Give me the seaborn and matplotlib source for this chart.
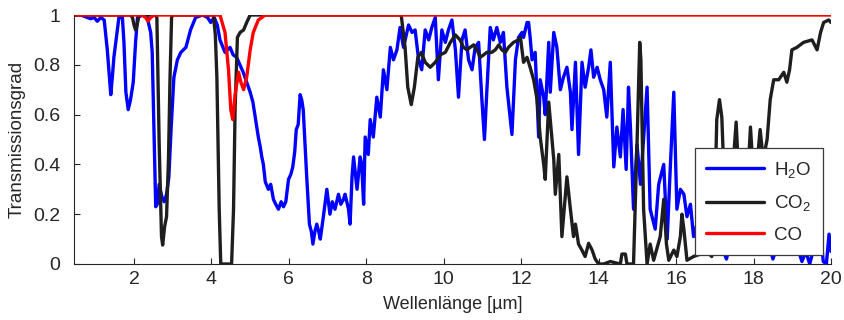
import matplotlib
matplotlib.use("Agg")
import matplotlib.pyplot as plt
import seaborn as sns
import pandas as pd

# ---------------- data ----------------
h2o_x = [0.45, 0.62, 0.79, 0.88, 0.97, 1.05, 1.14, 1.23, 1.31, 1.40, 1.44, 1.48, 1.57, 1.61, 1.70, 1.74,
         1.79, 1.85, 1.91, 1.98, 2.04, 2.09, 2.22, 2.34, 2.43, 2.47, 2.52, 2.56, 2.60, 2.65, 2.72, 2.78,
         2.84, 2.90, 2.96, 3.03, 3.12, 3.21, 3.34, 3.46, 3.59, 3.77, 3.90, 3.98, 4.07, 4.15, 4.22, 4.35,
         4.48, 4.56, 4.65, 4.82, 5.00, 5.07, 5.13, 5.21, 5.26, 5.30, 5.34, 5.39, 5.47, 5.53, 5.60, 5.66,
         5.73, 5.80, 5.86, 5.92, 5.99, 6.05, 6.10, 6.15, 6.19, 6.24, 6.29, 6.33, 6.37, 6.46, 6.53, 6.58,
         6.62, 6.67, 6.72, 6.77, 6.81, 6.89, 6.98, 7.06, 7.12, 7.19, 7.28, 7.34, 7.41, 7.45, 7.54, 7.58,
         7.63, 7.67, 7.72, 7.76, 7.84, 7.88, 7.93, 7.97, 8.05, 8.10, 8.18, 8.27, 8.36, 8.44, 8.53, 8.62,
         8.70, 8.79, 8.87, 8.96, 9.09, 9.18, 9.26, 9.35, 9.43, 9.52, 9.61, 9.69, 9.78, 9.86, 9.95, 10.04,
         10.12, 10.21, 10.30, 10.38, 10.47, 10.55, 10.64, 10.73, 10.81, 10.90, 10.98, 11.05, 11.11, 11.20,
         11.28, 11.37, 11.46, 11.54, 11.63, 11.72, 11.76, 11.85, 11.93, 12.02, 12.06, 12.15, 12.19, 12.23,
         12.28, 12.36, 12.45, 12.49, 12.58, 12.62, 12.71, 12.75, 12.84, 12.92, 13.01, 13.09, 13.18, 13.27,
         13.31, 13.40, 13.48, 13.57, 13.65, 13.74, 13.80, 13.87, 13.96, 14.04, 14.13, 14.21, 14.30, 14.39,
         14.47, 14.56, 14.63, 14.71, 14.77, 14.82, 14.90, 14.99, 15.08, 15.25, 15.33, 15.46, 15.55, 15.68,
         15.77, 15.85, 15.94, 16.02, 16.11, 16.20, 16.28, 16.37, 16.45, 16.54, 16.63, 16.72, 16.85, 17.00,
         17.15, 17.30, 17.45, 17.60, 17.75, 17.90, 18.05, 18.20, 18.35, 18.50, 18.65, 18.80, 18.95, 19.10,
         19.25, 19.35, 19.45, 19.55, 19.65, 19.72, 19.80, 19.88, 19.95, 20.00]
h2o_y = [1.00, 1.00, 0.99, 0.985, 0.99, 0.975, 0.99, 0.98, 0.86, 0.68, 0.75, 0.83, 0.94, 0.99, 0.99, 0.89,
         0.69, 0.62, 0.66, 0.73, 0.89, 0.99, 1.00, 0.99, 0.93, 0.85, 0.50, 0.23, 0.24, 0.32, 0.27, 0.25,
         0.28, 0.35, 0.55, 0.75, 0.82, 0.85, 0.87, 0.94, 0.99, 1.00, 0.99, 0.97, 0.99, 0.96, 0.90, 0.85,
         0.87, 0.84, 0.83, 0.77, 0.69, 0.65, 0.59, 0.51, 0.47, 0.43, 0.40, 0.33, 0.30, 0.32, 0.26, 0.24,
         0.22, 0.25, 0.23, 0.25, 0.34, 0.36, 0.39, 0.45, 0.54, 0.56, 0.68, 0.66, 0.62, 0.35, 0.16, 0.13,
         0.08, 0.13, 0.16, 0.13, 0.10, 0.19, 0.30, 0.20, 0.25, 0.22, 0.28, 0.24, 0.26, 0.28, 0.22, 0.16,
         0.35, 0.43, 0.36, 0.30, 0.43, 0.40, 0.24, 0.51, 0.44, 0.58, 0.51, 0.67, 0.59, 0.78, 0.70, 0.87,
         0.82, 0.86, 0.95, 0.87, 0.96, 0.93, 0.94, 0.82, 0.78, 0.94, 0.90, 0.95, 0.99, 0.74, 0.94, 0.89,
         0.94, 0.98, 0.86, 0.67, 0.90, 0.94, 0.82, 0.78, 0.87, 0.89, 0.67, 0.50, 0.69, 0.95,
         0.90, 0.95, 0.89, 0.93, 0.71, 0.58, 0.52, 0.82, 0.91, 0.93, 0.91, 0.97, 0.97, 0.91,
         0.82, 0.85, 0.51, 0.74, 0.67, 0.60, 0.89, 0.69, 0.93, 0.87, 0.70, 0.75, 0.79, 0.69,
         0.54, 0.81, 0.44, 0.81, 0.71, 0.79, 0.86, 0.75, 0.79, 0.74, 0.70, 0.59, 0.81, 0.39,
         0.55, 0.43, 0.62, 0.38, 0.71, 0.55, 0.22, 0.48, 0.32, 0.71, 0.22, 0.14, 0.32, 0.40,
         0.10, 0.39, 0.69, 0.22, 0.30, 0.28, 0.19, 0.24, 0.11, 0.16, 0.10, 0.15, 0.06, 0.18,
         0.08, 0.02, 0.12, 0.06, 0.14, 0.05, 0.12, 0.06, 0.10, 0.02, 0.09, 0.12, 0.06, 0.08,
         0.01, 0.05, 0.00, 0.06, 0.20, 0.14, 0.01, 0.00, 0.12, 0.05]

co2_x = [0.45, 1.90, 1.96, 2.00, 2.04, 2.08, 2.13, 2.55, 2.59, 2.65, 2.71, 2.74, 2.79, 2.84, 2.89, 2.93,
         2.97, 3.00, 4.05, 4.10, 4.14, 4.20, 4.24, 4.52, 4.57, 4.61, 4.67, 4.74, 4.83, 4.91, 5.00, 8.90,
         9.00, 9.07, 9.16, 9.24, 9.33, 9.42, 9.52, 9.65, 9.78, 9.91, 10.04, 10.17, 10.30, 10.42, 10.51,
         10.60, 10.68, 10.77, 10.86, 10.94, 11.03, 11.11, 11.24, 11.33, 11.42, 11.50, 11.59, 11.67, 11.80,
         11.93, 11.98, 12.06, 12.15, 12.23, 12.32, 12.41, 12.49, 12.58, 12.62, 12.71, 12.79, 12.84, 12.88,
         12.97, 13.05, 13.18, 13.27, 13.35, 13.40, 13.48, 13.57, 13.65, 13.74, 13.83, 13.91, 14.00, 14.13,
         14.30, 14.56, 14.60, 14.69, 14.73, 14.90, 14.99, 15.06, 15.09, 15.16, 15.25, 15.33, 15.42, 15.59,
         15.68, 15.75, 15.81, 15.94, 16.02, 16.11, 16.15, 16.20, 16.28, 16.45, 16.63, 16.80, 16.92, 17.00,
         17.05, 17.12, 17.18, 17.25, 17.35, 17.45, 17.55, 17.62, 17.75, 17.85, 17.92, 18.00, 18.10, 18.17,
         18.25, 18.35, 18.43, 18.52, 18.65, 18.78, 18.86, 18.93, 18.99, 19.12, 19.29, 19.51, 19.64, 19.73,
         19.81, 19.94, 20.00]
co2_y = [1.00, 1.00, 0.99, 0.96, 0.94, 0.96, 1.00, 1.00, 0.99, 0.48, 0.11, 0.076, 0.15, 0.19, 0.42, 0.75,
         0.99, 1.00, 1.00, 0.92, 0.75, 0.22, 0.00, 0.00, 0.22, 0.62, 0.91, 0.93, 0.94, 0.97, 1.00, 1.00,
         0.87, 0.71, 0.64, 0.71, 0.83, 0.85, 0.81, 0.79, 0.81, 0.84, 0.85, 0.89, 0.92, 0.90, 0.87,
         0.86, 0.87, 0.88, 0.86, 0.83, 0.84, 0.85, 0.85, 0.86, 0.88, 0.86, 0.85, 0.87, 0.89,
         0.90, 0.91, 0.81, 0.83, 0.79, 0.74, 0.66, 0.51, 0.40, 0.34, 0.65, 0.51, 0.42, 0.28,
         0.44, 0.11, 0.35, 0.22, 0.11, 0.16, 0.08, 0.055, 0.03, 0.083, 0.056, 0.02, 0.00, 0.00,
         0.01, 0.00, 0.04, 0.04, 0.00, 0.00, 0.48, 0.89, 0.82, 0.22, 0.00, 0.08, 0.015, 0.11,
         0.26, 0.08, 0.015, 0.056, 0.03, 0.11, 0.20, 0.14, 0.015, 0.03, 0.04, 0.05, 0.03, 0.25,
         0.58, 0.66, 0.59, 0.30, 0.20, 0.35, 0.57, 0.35, 0.25, 0.35, 0.55, 0.35, 0.42, 0.54,
         0.42, 0.50, 0.66, 0.74, 0.74, 0.77, 0.73, 0.78, 0.86, 0.87, 0.89, 0.90, 0.86, 0.93,
         0.97, 0.98, 0.97]

co_x = [0.45, 2.20, 2.30, 2.36, 2.43, 2.52, 4.22, 4.35, 4.44, 4.50, 4.55, 4.61, 4.70, 4.76, 4.83, 4.91,
        5.00, 5.08, 5.21, 5.39, 20.00]
co_y = [1.00, 1.00, 0.99, 0.975, 0.99, 1.00, 1.00, 0.93, 0.78, 0.62, 0.58, 0.68, 0.77, 0.73, 0.70, 0.75,
        0.86, 0.93, 0.98, 1.00, 1.00]

series_labels = ["H$_2$O", "CO$_2$", "CO"]
series_colors = ["#0000FF", "#1E1E1E", "#FF0000"]
x_ticks = [2, 4, 6, 8, 10, 12, 14, 16, 18, 20]
y_ticks = [0, 0.2, 0.4, 0.6, 0.8, 1]
y_tick_labels = ["0", "0.2", "0.4", "0.6", "0.8", "1"]

# ---------------- style ----------------
sns.set_theme(style="ticks")
txt = "#262626"
plt.rcParams["font.family"] = ["Liberation Sans", "DejaVu Sans"]
plt.rcParams["mathtext.fontset"] = "custom"
plt.rcParams["mathtext.rm"] = "Liberation Sans"
plt.rcParams["mathtext.it"] = "Liberation Sans:italic"
plt.rcParams["mathtext.default"] = "regular"

fig = plt.figure(figsize=(8.45, 3.2), dpi=100)
ax = fig.add_axes([74 / 845, 1 - 264 / 320, (831 - 74) / 845, (264 - 15) / 320])

frames = [
    pd.DataFrame({"x": h2o_x, "y": h2o_y}),
    pd.DataFrame({"x": co2_x, "y": co2_y}),
    pd.DataFrame({"x": co_x, "y": co_y}),
]
for df, lab, col in zip(frames, series_labels, series_colors):
    sns.lineplot(data=df, x="x", y="y", ax=ax, color=col, linewidth=2.4,
                 label=lab, sort=False, estimator=None)

ax.set_xlim(0.45, 20)
ax.set_ylim(0, 1)
ax.set_xticks(x_ticks)
ax.set_yticks(y_ticks)
ax.set_yticklabels(y_tick_labels)
ax.tick_params(axis="both", direction="in", length=4, width=0.8, color=txt,
               labelcolor=txt, labelsize=14)
ax.tick_params(axis="x", pad=5)
ax.tick_params(axis="y", pad=10)
for s in ["top", "right"]:
    ax.spines[s].set_visible(False)
for s in ["left", "bottom"]:
    ax.spines[s].set_color(txt)
    ax.spines[s].set_linewidth(0.8)

ax.set_xlabel("Wellenlänge [µm]", fontsize=13, color=txt, labelpad=6)
ax.set_ylabel("Transmissionsgrad", fontsize=13.5, color=txt, labelpad=5)

leg = ax.legend(loc="lower right", bbox_to_anchor=(0.989, 0.036), fontsize=13.5,
                frameon=True, fancybox=False, framealpha=1, edgecolor="#3a3a3a",
                handlelength=3.1, handletextpad=0.55, labelspacing=0.72,
                borderpad=0.6, borderaxespad=0)
leg.get_frame().set_linewidth(0.9)
for t in leg.get_texts():
    t.set_color(txt)

fig.savefig("out.png", dpi=100)
